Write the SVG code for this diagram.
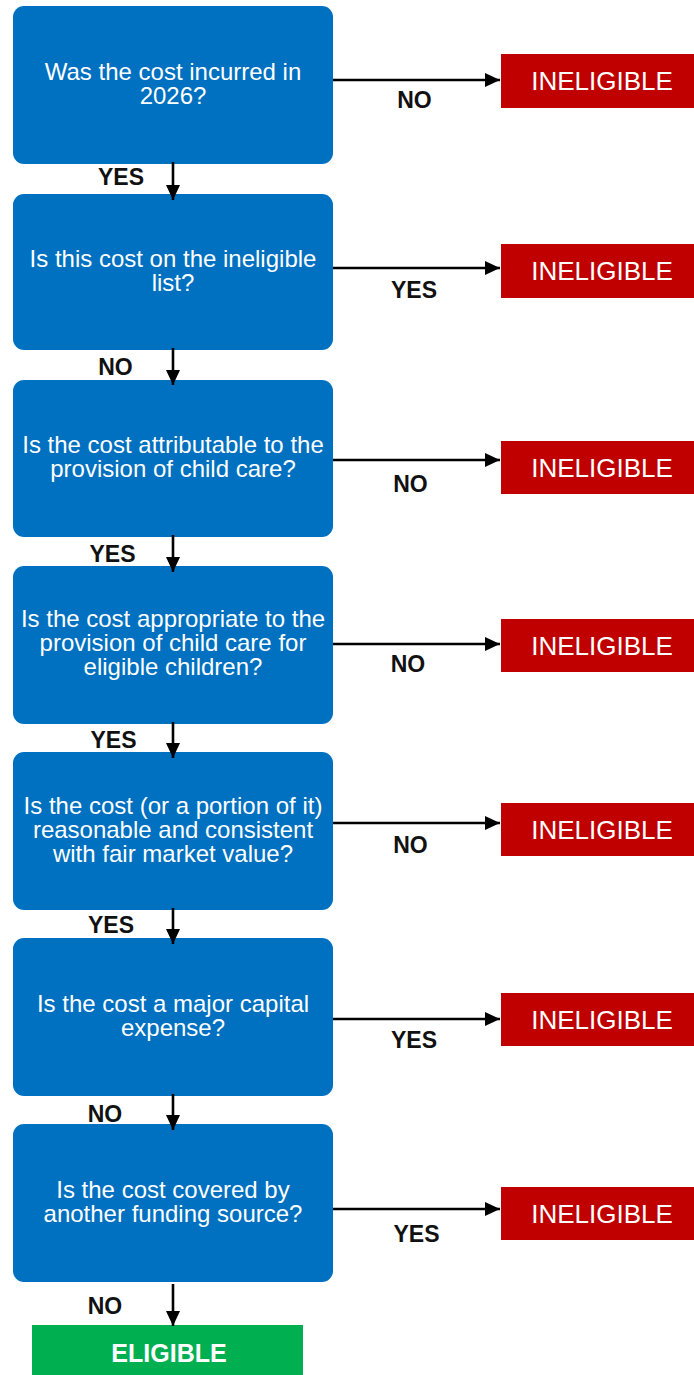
<svg xmlns="http://www.w3.org/2000/svg" width="694" height="1375" viewBox="0 0 694 1375">
<style>
.q{fill:#0070C0;}
.qt{font-family:"Liberation Sans",Arial,sans-serif;font-size:24px;fill:#ffffff;text-anchor:middle;}
.inel{fill:#C00000;}
.inelt{font-family:"Liberation Sans",Arial,sans-serif;font-size:26px;fill:#ffffff;text-anchor:middle;}
.el{fill:#00B050;}
.elt{font-family:"Liberation Sans",Arial,sans-serif;font-size:25px;font-weight:bold;fill:#ffffff;text-anchor:middle;}
.lbl{font-family:"Liberation Sans",Arial,sans-serif;font-size:23px;font-weight:bold;fill:#111111;text-anchor:middle;}
.c{stroke:#000000;stroke-width:2.6;fill:none;marker-end:url(#ah);}
</style>
<defs>
<marker id="ah" markerUnits="userSpaceOnUse" markerWidth="16" markerHeight="16" viewBox="0 0 16 16" refX="15" refY="8" orient="auto">
<path d="M0,1 L15,8 L0,15 Z" fill="#000000"/>
</marker>
</defs>
<rect width="694" height="1375" fill="#ffffff"/>

<g id="q1"><rect class="q" x="13" y="6" width="320" height="158" rx="11"/>
<text class="qt" x="173" y="80">Was the cost incurred in</text><text class="qt" x="173" y="104">2026?</text></g>
<g id="q2"><rect class="q" x="13" y="194" width="320" height="156" rx="11"/>
<text class="qt" x="173" y="267">Is this cost on the ineligible</text><text class="qt" x="173" y="291">list?</text></g>
<g id="q3"><rect class="q" x="13" y="380" width="320" height="157" rx="11"/>
<text class="qt" x="173" y="453">Is the cost attributable to the</text><text class="qt" x="173" y="477">provision of child care?</text></g>
<g id="q4"><rect class="q" x="13" y="566" width="320" height="158" rx="11"/>
<text class="qt" x="173" y="627">Is the cost appropriate to the</text><text class="qt" x="173" y="651">provision of child care for</text><text class="qt" x="173" y="675">eligible children?</text></g>
<g id="q5"><rect class="q" x="13" y="752" width="320" height="158" rx="11"/>
<text class="qt" x="173" y="814">Is the cost (or a portion of it)</text><text class="qt" x="173" y="838">reasonable and consistent</text><text class="qt" x="173" y="862">with fair market value?</text></g>
<g id="q6"><rect class="q" x="13" y="938" width="320" height="158" rx="11"/>
<text class="qt" x="173" y="1012">Is the cost a major capital</text><text class="qt" x="173" y="1036">expense?</text></g>
<g id="q7"><rect class="q" x="13" y="1124" width="320" height="158" rx="11"/>
<text class="qt" x="173" y="1198">Is the cost covered by</text><text class="qt" x="173" y="1222">another funding source?</text></g>

<g id="i1"><rect class="inel" x="501" y="54" width="202" height="54"/><text class="inelt" x="602" y="90">INELIGIBLE</text></g>
<g id="i2"><rect class="inel" x="501" y="244" width="202" height="54"/><text class="inelt" x="602" y="280">INELIGIBLE</text></g>
<g id="i3"><rect class="inel" x="501" y="441" width="202" height="53"/><text class="inelt" x="602" y="477">INELIGIBLE</text></g>
<g id="i4"><rect class="inel" x="501" y="619" width="202" height="53"/><text class="inelt" x="602" y="655">INELIGIBLE</text></g>
<g id="i5"><rect class="inel" x="501" y="803" width="202" height="53"/><text class="inelt" x="602" y="839">INELIGIBLE</text></g>
<g id="i6"><rect class="inel" x="501" y="993" width="202" height="53"/><text class="inelt" x="602" y="1029">INELIGIBLE</text></g>
<g id="i7"><rect class="inel" x="501" y="1187" width="202" height="53"/><text class="inelt" x="602" y="1223">INELIGIBLE</text></g>

<g id="eligible"><rect class="el" x="32" y="1325" width="271" height="55"/><text class="elt" x="169" y="1362">ELIGIBLE</text></g>

<g id="connectors">
<line class="c" x1="333" y1="80" x2="500" y2="80"/>
<line class="c" x1="333" y1="268" x2="500" y2="268"/>
<line class="c" x1="333" y1="460" x2="500" y2="460"/>
<line class="c" x1="333" y1="644" x2="500" y2="644"/>
<line class="c" x1="333" y1="823" x2="500" y2="823"/>
<line class="c" x1="333" y1="1019" x2="500" y2="1019"/>
<line class="c" x1="333" y1="1209" x2="500" y2="1209"/>
<line class="c" x1="173" y1="162" x2="173" y2="200"/>
<line class="c" x1="173" y1="348" x2="173" y2="385"/>
<line class="c" x1="173" y1="535" x2="173" y2="572"/>
<line class="c" x1="173" y1="722" x2="173" y2="758"/>
<line class="c" x1="173" y1="908" x2="173" y2="944"/>
<line class="c" x1="173" y1="1094" x2="173" y2="1130"/>
<line class="c" x1="173" y1="1284" x2="173" y2="1326"/>
<text class="lbl" x="414.5" y="108">NO</text>
<text class="lbl" x="414" y="298">YES</text>
<text class="lbl" x="410.5" y="492">NO</text>
<text class="lbl" x="408" y="672">NO</text>
<text class="lbl" x="410.5" y="853">NO</text>
<text class="lbl" x="414" y="1048">YES</text>
<text class="lbl" x="416.5" y="1242">YES</text>
<text class="lbl" x="121" y="185">YES</text>
<text class="lbl" x="115.5" y="375">NO</text>
<text class="lbl" x="112.5" y="562">YES</text>
<text class="lbl" x="113.5" y="748">YES</text>
<text class="lbl" x="111" y="933">YES</text>
<text class="lbl" x="105" y="1122">NO</text>
<text class="lbl" x="105" y="1314">NO</text>
</g>
</svg>
